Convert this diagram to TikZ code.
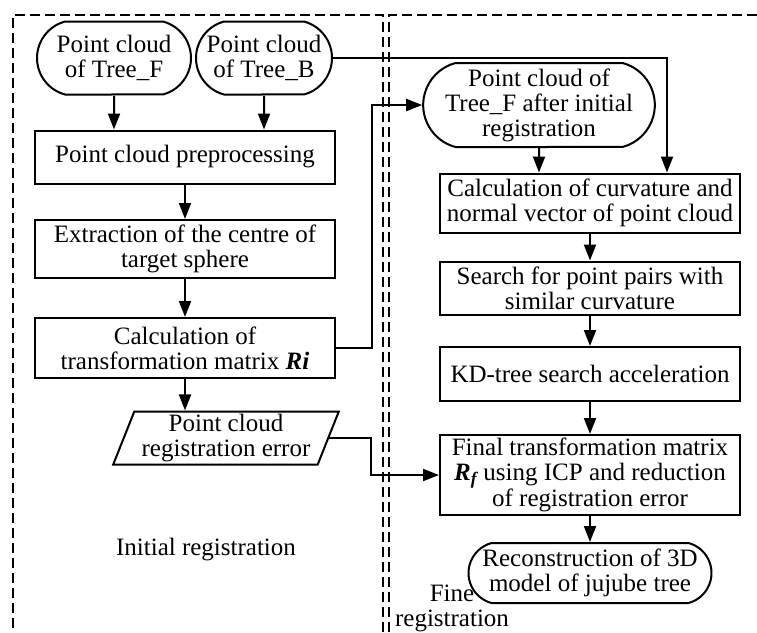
\documentclass[tikz,border=0pt]{standalone}
\usepackage{fontspec}
\setmainfont{Liberation Serif}
\usetikzlibrary{arrows.meta,shapes.geometric,shapes.misc}

\begin{document}
\begin{tikzpicture}
  [x=1pt,y=-1pt,line width=2pt,>={Triangle[length=16pt,width=12pt]},
   every node/.style={font=\fontsize{25}{25}\selectfont,align=center,inner sep=2pt},
   box/.style={draw,minimum width=300},
   term/.style={draw,rounded rectangle,rounded rectangle arc length=150},
   io/.style={draw,trapezium,trapezium left angle=69,trapezium right angle=111,trapezium stretches=true}]
  \useasboundingbox (0,0) rectangle (757,632);

  \node[term,minimum width=158,minimum height=73] (1) at (114,58) {Point cloud\\of Tree\_F};
  \node[term,minimum width=140,minimum height=73] (2) at (264,58) {Point cloud\\of Tree\_B};
  \node[box,minimum height=53] (3) at (185,157) {Point cloud preprocessing};
  \node[box,minimum height=58] (4) at (185,249) {Extraction of the centre of\\target sphere};
  \node[box,minimum height=60] (5) at (185,348) {Calculation of\\transformation matrix \textbf{\textit{Ri}}};
  \node[io,minimum width=226,minimum height=53] (6) at (226,438) {Point cloud\\registration error};
  \node[term,minimum width=228,minimum height=84] (7) at (539,105) {Point cloud of\\Tree\_F after initial\\registration};
  \node[box,minimum height=59] (8) at (590,203) {Calculation of curvature and\\normal vector of point cloud};
  \node[box,minimum height=53] (9) at (590,288) {Search for point pairs with\\similar curvature};
  \node[box,minimum height=54] (10) at (590,374) {KD-tree search acceleration};
  \node[box,minimum height=80] (11) at (590,475) {Final transformation matrix\\\textbf{\textit{R\textsubscript{f}}} using ICP and reduction\\of registration error};
  \node[term,minimum width=247,minimum height=60] (12) at (590,573) {Reconstruction of 3D\\model of jujube tree};
  \node (13) at (206,550) {Initial registration};
  \node (14) at (452,608) {Fine\\registration};

  \draw[dash pattern=on 10pt off 5pt] (383,632) -- (383,15) -- (13,15) -- (13,632);
  \draw[dash pattern=on 10pt off 5pt] (389,632) -- (389,15) -- (757,15);

  \foreach \from/\to in {1/3,2/3,3/4,4/5,5/6,7/8,8/9,9/10,10/11,11/12}
    \draw[->] (\from) -- (\from |- \to.north);
  \draw[->] (5.east) -- ++(36,0) |- (7.west);
  \draw[->] (6.east) -- ++(42,0) |- (11.west);
  \draw[->] (2.east) -| ([xshift=77]8.north);

\end{tikzpicture}
\end{document}
